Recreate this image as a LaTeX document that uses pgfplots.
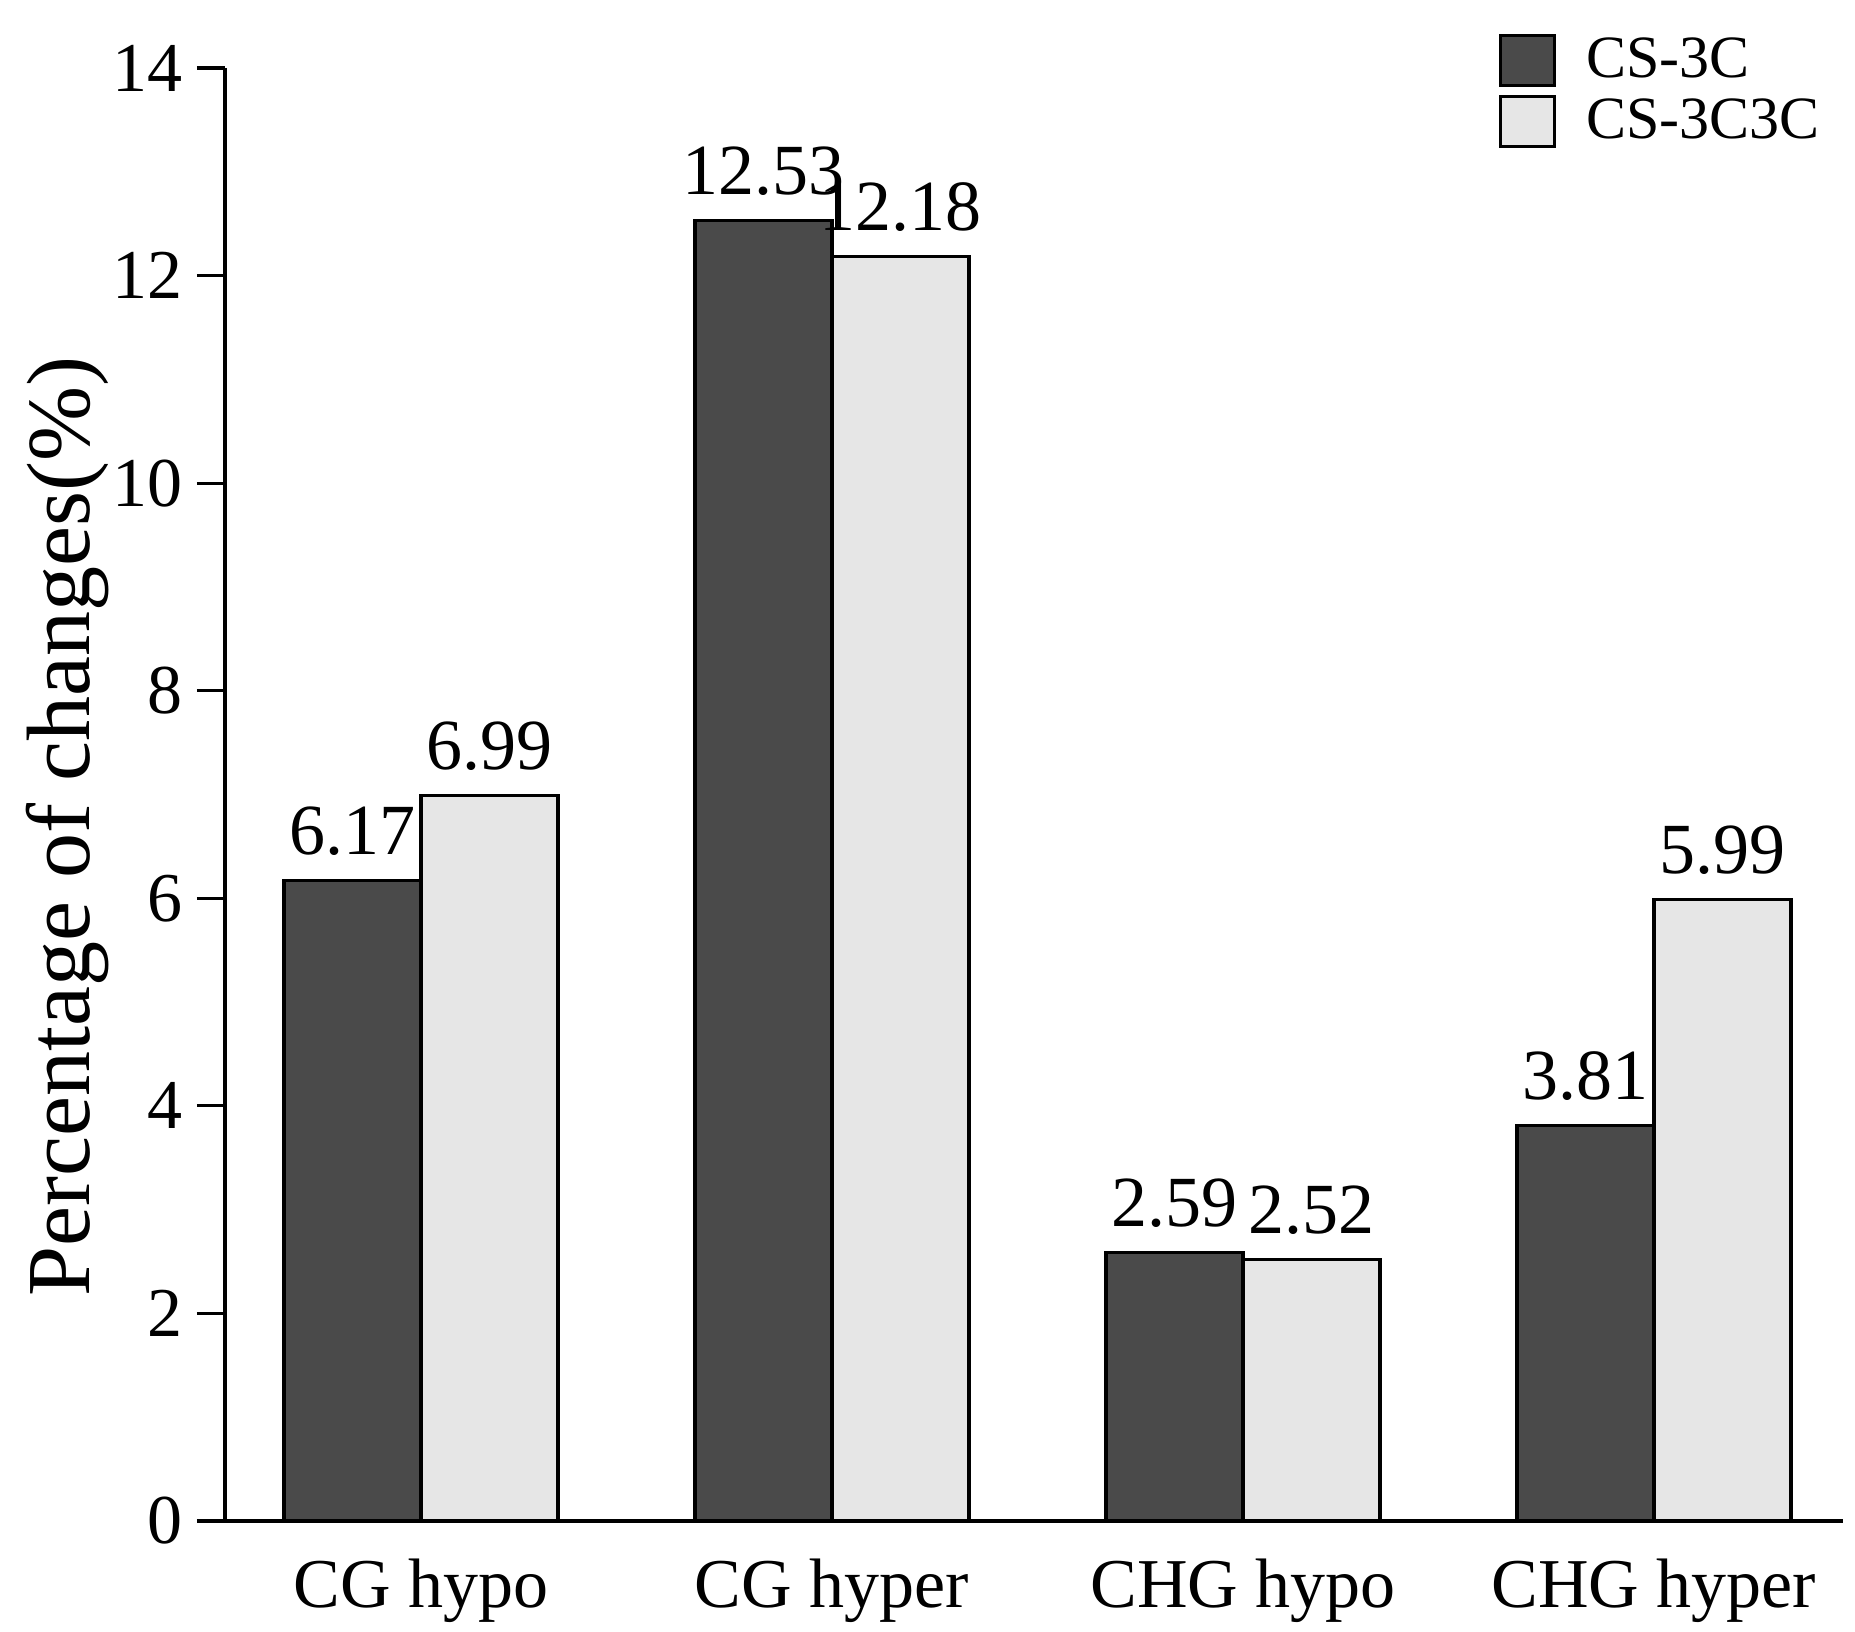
\documentclass[border=0pt]{standalone}
\usepackage{fontspec}
\setmainfont{Liberation Serif}
\usepackage{pgfplots}
\pgfplotsset{compat=1.18}

\definecolor{darkbar}{HTML}{4A4A4A}
\definecolor{lightbar}{HTML}{E6E6E6}

\begin{document}
\begin{tikzpicture}
\begin{axis}[
  scale only axis,
  width=404.5pt, height=363.25pt,
  ybar=0pt, bar width=34.25pt,
  xmin=-0.477, xmax=3.46,
  ymin=0, ymax=14,
  ytick={0,2,...,14},
  xtick={0,1,2,3},
  xticklabels={CG hypo, CG hyper, CHG hypo, CHG hyper},
  axis x line*=bottom, axis y line*=left,
  axis line style={line width=0.8pt, -},
  major x tick style={draw=none},
  major y tick style={line width=0.8pt, black},
  tick align=outside, major tick length=7pt,
  /pgf/number format/assume math mode=true,
  yticklabel style={font=\fontsize{17.5}{18}\selectfont},
  xticklabel style={font=\fontsize{17.5}{18}\selectfont, yshift=1pt},
  ylabel={Percentage of changes(\%)},
  ylabel style={font=\fontsize{22.5}{24}\selectfont, yshift=-6pt, xshift=-8pt},
  nodes near coords,
  nodes near coords style={font=\fontsize{18}{18}\selectfont, yshift=2.5pt, /pgf/number format/fixed, /pgf/number format/precision=2, /pgf/number format/fixed zerofill},
  legend style={draw=none, fill=none, at={(0.787,1.027)}, anchor=north west,
    font=\fontsize{15}{16}\selectfont, row sep=-0.25pt, inner sep=0pt},
  legend cell align=left,
  legend image code/.code={\draw[#1] (0pt,-6.25pt) rectangle (13.5pt,6.25pt); \path (19pt,0pt);},
  clip=false,
]
\addplot[fill=darkbar, draw=black, line width=0.8pt] coordinates {(0,6.17) (1,12.53) (2,2.59) (3,3.81)};
\addlegendentry{CS-3C}
\addplot[fill=lightbar, draw=black, line width=0.8pt] coordinates {(0,6.99) (1,12.18) (2,2.52) (3,5.99)};
\addlegendentry{CS-3C3C}
\coordinate (bl) at (rel axis cs:0,0);
\coordinate (tr) at (rel axis cs:1,1);
\end{axis}
\pgfresetboundingbox
\path ([shift={(-56.25pt,-27.5pt)}]bl) rectangle ([shift={(3pt,17pt)}]tr);
\end{tikzpicture}
\end{document}
